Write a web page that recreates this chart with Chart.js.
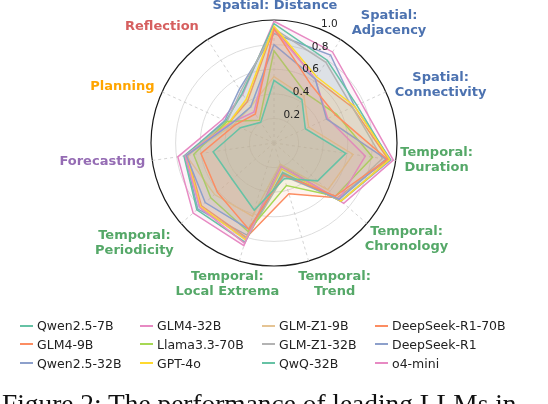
<!DOCTYPE html>
<html><head><meta charset="utf-8">
<script src="https://cdn.jsdelivr.net/npm/chart.js@4.4.0/dist/chart.umd.min.js"></script>
<style>
html,body{margin:0;padding:0;background:#fff;overflow:hidden;}
#wrap{position:relative;width:548px;height:404px;overflow:hidden;}
#c{position:absolute;left:0;top:0;}
#legend{position:absolute;left:20px;top:316.3px;display:grid;grid-auto-flow:column;grid-template-rows:repeat(3,18.7px);grid-template-columns:120px 122px 113px 160px;font-family:"DejaVu Sans";font-size:12.5px;color:#222;}
.item{display:flex;align-items:center;white-space:nowrap;}
.sw{display:inline-block;width:13px;height:2px;margin-right:4px;}
#caption{position:absolute;left:2px;top:391px;font-family:"Liberation Serif";font-size:27.4px;line-height:27px;white-space:nowrap;color:#111;}
</style></head>
<body>
<div id="wrap">
<canvas id="c" width="548" height="404"></canvas>
<div id="legend"></div>
<div id="caption">Figure 2: The performance of leading LLMs in</div>
</div>
<script>
// ---- data ----
const axisLabels = [
  ['Spatial: Distance'], ['Spatial:', 'Adjacency'], ['Spatial:', 'Connectivity'],
  ['Temporal:', 'Duration'], ['Temporal:', 'Chronology'], ['Temporal:', 'Trend'],
  ['Temporal:', 'Local Extrema'], ['Temporal:', 'Periodicity'], ['Forecasting'],
  ['Planning'], ['Reflection']
];
const seriesNames = ['Qwen2.5-7B','GLM4-9B','Qwen2.5-32B','GLM4-32B','Llama3.3-70B','GPT-4o',
  'GLM-Z1-9B','GLM-Z1-32B','QwQ-32B','DeepSeek-R1-70B','DeepSeek-R1','o4-mini'];
const qwen7b   = [0.51, 0.42, 0.28, 0.59, 0.47, 0.30, 0.57, 0.45, 0.50, 0.30, 0.20];
const glm9b    = [0.93, 0.56, 0.55, 0.93, 0.66, 0.27, 0.73, 0.61, 0.60, 0.35, 0.28];
const qwen32b  = [0.80, 0.62, 0.47, 0.92, 0.70, 0.27, 0.73, 0.74, 0.72, 0.38, 0.35];
const glm32b   = [0.92, 0.62, 0.48, 0.75, 0.70, 0.20, 0.85, 0.80, 0.73, 0.39, 0.30];
const llama70b = [0.75, 0.48, 0.56, 0.81, 0.66, 0.36, 0.75, 0.68, 0.66, 0.42, 0.22];
const gpt4o    = [0.95, 0.64, 0.72, 0.95, 0.72, 0.22, 0.82, 0.79, 0.72, 0.40, 0.42];
const glmz19b  = [0.54, 0.45, 0.31, 0.65, 0.58, 0.18, 0.62, 0.64, 0.72, 0.36, 0.35];
const glmz132b = [0.93, 0.78, 0.70, 0.89, 0.70, 0.28, 0.81, 0.80, 0.72, 0.42, 0.50];
const qwq32b   = [0.97, 0.80, 0.74, 0.95, 0.72, 0.25, 0.84, 0.83, 0.74, 0.43, 0.48];
const dsr170b  = [0.94, 0.62, 0.70, 0.94, 0.68, 0.43, 0.80, 0.78, 0.71, 0.40, 0.40];
const dsr1     = [0.89, 0.85, 0.72, 0.96, 0.72, 0.26, 0.78, 0.82, 0.73, 0.44, 0.52];
const o4mini   = [0.99, 0.88, 0.78, 0.98, 0.75, 0.18, 0.87, 0.87, 0.79, 0.46, 0.47];
const seriesValues = [qwen7b, glm9b, qwen32b, glm32b, llama70b, gpt4o, glmz19b, glmz132b, qwq32b, dsr170b, dsr1, o4mini];
const tickValues = [0.2, 0.4, 0.6, 0.8, 1.0];
const tickLabels = ['0.2', '0.4', '0.6', '0.8', '1.0'];

// ---- styles ----
const palette = ['#66c2a5','#fc8d62','#8da0cb','#e78ac3','#a6d854','#ffd92f','#e5c494','#b3b3b3'];
const seriesColors = seriesNames.map((_, i) => palette[i % palette.length]);
const SP = '#4c72b0', TE = '#55a868';
const axisColors = [SP, SP, SP, TE, TE, TE, TE, TE, '#956cb4', '#ffa500', '#d65f5f'];
const labelNudge = [[1,0],[41,-5],[42,-1],[27,-2],[29,6],[22,10],[-8,10],[-36,10],[-36,-1],[-27,1],[-38,-1]];

function rgba(hex, a){
  const n = parseInt(hex.slice(1), 16);
  return `rgba(${(n>>16)&255},${(n>>8)&255},${n&255},${a})`;
}

const labelPlugin = {
  id: 'axisText',
  afterDatasetsDraw(chart){
    const s = chart.scales.r, ctx = chart.ctx;
    ctx.save();
    ctx.font = '10.5px "DejaVu Sans"';
    ctx.fillStyle = '#222';
    ctx.textAlign = 'left';
    ctx.textBaseline = 'bottom';
    const a = 22.5 * Math.PI / 180;
    tickValues.forEach((v, k) => {
      const d = s.getDistanceFromCenterForValue(v);
      ctx.fillText(tickLabels[k], s.xCenter + d * Math.sin(a), s.yCenter - d * Math.cos(a));
    });
    ctx.font = 'bold 13px "DejaVu Sans"';
    ctx.textAlign = 'center';
    ctx.textBaseline = 'middle';
    chart.data.labels.forEach((lab, i) => {
      const p = s.getPointPosition(i, s.drawingArea + 14);
      const cx = p.x + labelNudge[i][0], cy = p.y + labelNudge[i][1];
      const lines = Array.isArray(lab) ? lab : [lab];
      ctx.fillStyle = axisColors[i];
      lines.forEach((t, k) => ctx.fillText(t, cx, cy + (k - (lines.length - 1) / 2) * 15));
    });
    ctx.restore();
  }
};

new Chart(document.getElementById('c'), {
  type: 'radar',
  data: {
    labels: axisLabels,
    datasets: seriesNames.map((name, i) => ({
      label: name,
      data: seriesValues[i],
      borderColor: seriesColors[i],
      backgroundColor: rgba(seriesColors[i], 0.1),
      borderWidth: 1.5,
      pointRadius: 0,
      fill: true,
      tension: 0
    }))
  },
  options: {
    responsive: false,
    animation: false,
    devicePixelRatio: 1,
    layout: { padding: { left: 151, right: 150, top: 20, bottom: 137 } },
    plugins: { legend: { display: false }, tooltip: { enabled: false } },
    scales: {
      r: {
        min: 0, max: 1,
        ticks: { display: false, stepSize: 0.2 },
        pointLabels: { display: false },
        grid: {
          circular: true,
          color: c => (c.tick && c.tick.value >= 0.999) ? '#1a1a1a' : '#d4d4d4',
          lineWidth: c => (c.tick && c.tick.value >= 0.999) ? 1.2 : 0.8
        },
        angleLines: { color: '#c8c8c8', lineWidth: 0.8, borderDash: [3, 3] }
      }
    }
  },
  plugins: [labelPlugin]
});

const lg = document.getElementById('legend');
seriesNames.forEach((name, i) => {
  const it = document.createElement('div');
  it.className = 'item';
  const sw = document.createElement('span');
  sw.className = 'sw';
  sw.style.background = seriesColors[i];
  const tx = document.createElement('span');
  tx.textContent = name;
  it.appendChild(sw); it.appendChild(tx);
  lg.appendChild(it);
});
</script>
</body></html>
